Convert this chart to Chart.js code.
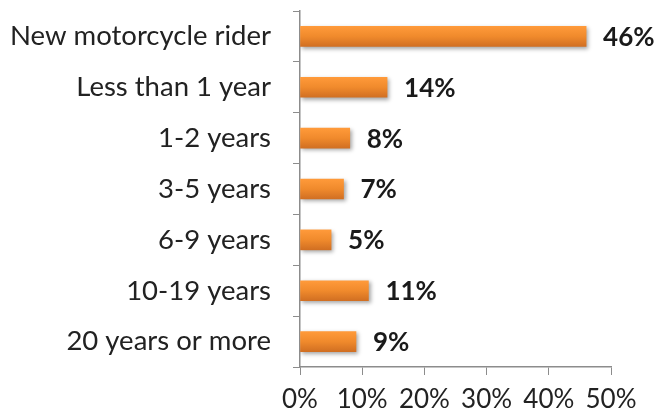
<!DOCTYPE html>
<html>
<head>
<meta charset="utf-8">
<script src="https://cdn.jsdelivr.net/npm/chart.js@4.4.0/dist/chart.umd.min.js"></script>
<style>
  html, body { margin: 0; padding: 0; background: #fff; }
  #wrap { width: 656px; height: 417px; }
</style>
</head>
<body>
<div id="wrap"><canvas id="chart"></canvas></div>
<script>
// data
const categories = ['New motorcycle rider', 'Less than 1 year', '1-2 years', '3-5 years', '6-9 years', '10-19 years', '20 years or more'];
const shares = [46, 14, 8, 7, 5, 11, 9];
const xTicks = [0, 10, 20, 30, 40, 50];

const FONT = 'Lato, "Open Sans", sans-serif';
const BAR_PX = 20;

// vertical orange gradient for each bar
function barFill(context) {
  const chart = context.chart;
  const yScale = chart.scales.y;
  if (!yScale || !chart.chartArea) return '#f28b2c';
  const yc = yScale.getPixelForValue(context.dataIndex);
  const g = chart.ctx.createLinearGradient(0, yc - BAR_PX / 2, 0, yc + BAR_PX / 2);
  g.addColorStop(0, '#ff9a3a');
  g.addColorStop(0.5, '#f08a2c');
  g.addColorStop(1, '#d16f22');
  return g;
}

// soft shadow behind the bars
const barShadow = {
  id: 'barShadow',
  beforeDatasetsDraw(chart) {
    const ctx = chart.ctx;
    ctx.save();
    ctx.shadowColor = 'rgba(0,0,0,0.35)';
    ctx.shadowBlur = 4;
    ctx.shadowOffsetX = 2;
    ctx.shadowOffsetY = 2;
  },
  afterDatasetsDraw(chart) {
    chart.ctx.restore();
  }
};

// bold percentage next to each bar
const valueLabels = {
  id: 'valueLabels',
  afterDatasetsDraw(chart) {
    const ctx = chart.ctx;
    const meta = chart.getDatasetMeta(0);
    ctx.save();
    ctx.font = 'bold 26px ' + FONT;
    ctx.fillStyle = '#1a1a1a';
    ctx.textBaseline = 'middle';
    ctx.textAlign = 'left';
    meta.data.forEach((bar, i) => {
      ctx.fillText(shares[i] + '%', bar.x + 17, bar.y + 1);
    });
    ctx.restore();
  }
};

new Chart(document.getElementById('chart'), {
  type: 'bar',
  data: {
    labels: categories,
    datasets: [{
      data: shares,
      backgroundColor: barFill,
      barThickness: BAR_PX,
      borderWidth: 0
    }]
  },
  options: {
    indexAxis: 'y',
    responsive: true,
    maintainAspectRatio: false,
    animation: false,
    layout: { padding: { top: 11, right: 45, left: 0, bottom: 0 } },
    plugins: {
      legend: { display: false },
      tooltip: { enabled: false }
    },
    scales: {
      x: {
        min: 0,
        max: 50,
        afterBuildTicks(scale) {
          scale.ticks = xTicks.map(v => ({ value: v }));
        },
        afterFit(scale) {
          scale.height = 50;
          scale.paddingLeft = 0;
          scale.paddingRight = 0;
        },
        grid: {
          drawOnChartArea: false,
          drawTicks: true,
          tickLength: 8,
          color: '#8c8c8c'
        },
        border: { display: true, color: '#8c8c8c', width: 1.5 },
        ticks: {
          color: '#222',
          font: { family: FONT, size: 26 },
          padding: 9,
          callback: v => v + '%'
        }
      },
      y: {
        afterFit(scale) {
          scale.width = 300;
          scale.paddingTop = 0;
          scale.paddingBottom = 0;
        },
        grid: {
          offset: true,
          drawOnChartArea: false,
          drawTicks: true,
          tickLength: 7,
          color: '#8c8c8c'
        },
        border: { display: true, color: '#8c8c8c', width: 1.5 },
        ticks: {
          color: '#222',
          font: { family: FONT, size: 27.5 },
          padding: 22
        }
      }
    }
  },
  plugins: [barShadow, valueLabels]
});
</script>
</body>
</html>
